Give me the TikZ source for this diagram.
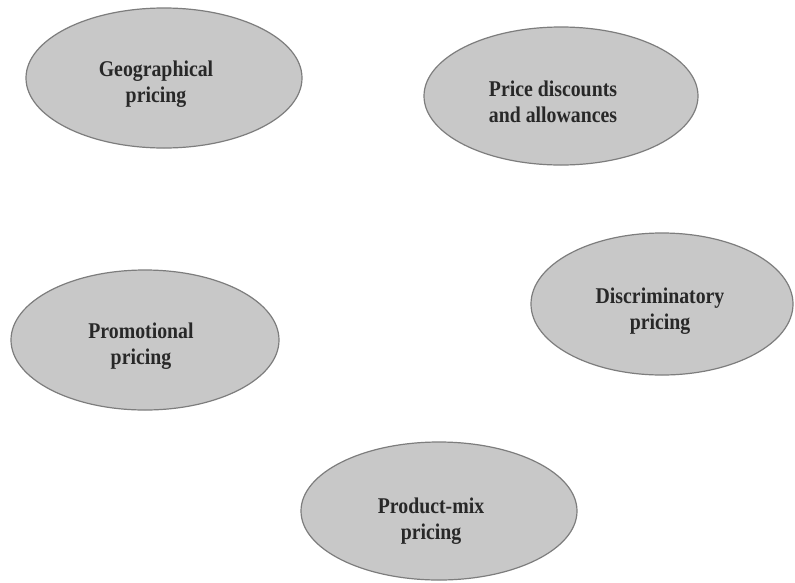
\documentclass[tikz,border=0pt]{standalone}
\usepackage{fontspec}
\setmainfont{Liberation Serif}
\newfontfamily\ovalfont[FakeStretch=0.88]{Liberation Serif}
\usetikzlibrary{shapes.geometric}
\definecolor{ellfill}{RGB}{200,200,200}
\definecolor{ellline}{RGB}{125,125,125}
\definecolor{lbltext}{RGB}{40,40,40}
\tikzset{
  oval/.style={ellipse, draw=ellline, fill=ellfill, line width=1.2pt, inner sep=0pt},
  lbl/.style={align=center, text=lbltext, inner sep=0pt,
    font=\ovalfont\bfseries\fontsize{22.5}{26.5}\selectfont}
}
\begin{document}
\begin{tikzpicture}[x=1pt, y=-1pt]
  \useasboundingbox (0,0) rectangle (795,582);
  \fill[white] (0,0) rectangle (795,582);

  % five pricing strategies
  \node[oval, minimum width=276pt, minimum height=140pt] (geo)  at (164,78)  {};
  \node[oval, minimum width=274pt, minimum height=138pt] (disc) at (561,96)  {};
  \node[oval, minimum width=262pt, minimum height=142pt] (dscr) at (662,304) {};
  \node[oval, minimum width=268pt, minimum height=140pt] (promo) at (145,340) {};
  \node[oval, minimum width=276pt, minimum height=138pt] (mix)  at (439,511) {};

  \node[lbl] (geoT)   at (156,84)  {Geographical\\pricing};
  \node[lbl] (discT)  at (553,102) {Price discounts\\and allowances};
  \node[lbl] (dscrT)  at (660,311) {Discriminatory\\pricing};
  \node[lbl] (promoT) at (141,346) {Promotional\\pricing};
  \node[lbl] (mixT)   at (431,521) {Product-mix\\pricing};
\end{tikzpicture}
\end{document}
